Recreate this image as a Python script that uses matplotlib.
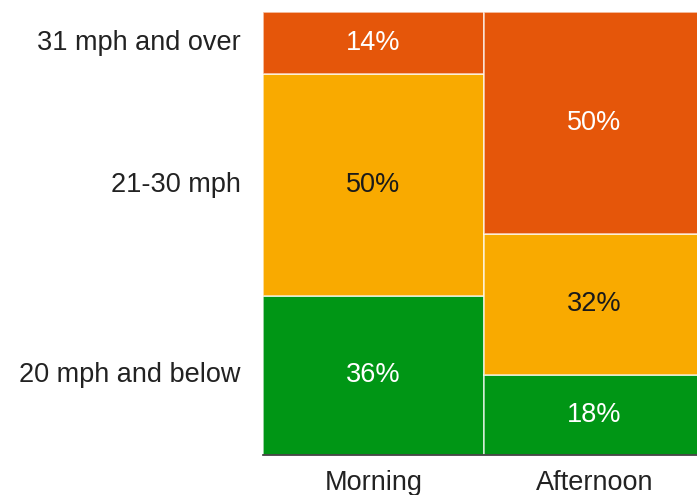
import matplotlib
matplotlib.use("Agg")
import matplotlib.pyplot as plt

periods = ["Morning", "Afternoon"]
speed_bands = ["20 mph and below", "21-30 mph", "31 mph and over"]
morning = [36, 50, 14]
afternoon = [18, 32, 50]
colors = ["#009615", "#F9AA00", "#E5560A"]
text_colors = ["white", "#1a1a1a", "white"]

plt.rcParams['font.family'] = ['Liberation Sans', 'DejaVu Sans']
W, H = 697, 495
fig = plt.figure(figsize=(W / 100, H / 100), dpi=100)
ax = fig.add_axes([263 / W, 1 - 455 / H, (705 - 263) / W, (455 - 12) / H])

shares = [morning, afternoon]
for i, vals in enumerate(shares):
    bottom = 0
    for j, v in enumerate(vals):
        ax.bar(i, v, width=1.0, bottom=bottom, align='edge', color=colors[j],
               edgecolor=(1, 1, 1, 0.7), linewidth=1.2)
        ax.text(i + 0.5, bottom + v / 2, f"{v}%", ha='center', va='center',
                fontsize=19.5, color=text_colors[j])
        bottom += v

ax.set_xlim(0, 2)
ax.set_ylim(0, 100)
ax.set_xticks([0.5, 1.5])
ax.set_xticklabels(periods, fontsize=19.5, color="#222222")
cum = 0
yt = []
for v in morning:
    yt.append(cum + v / 2)
    cum += v
ax.set_yticks(yt)
ax.set_yticklabels(speed_bands, fontsize=19.5, color="#222222", va='center')
ax.tick_params(axis='both', length=0)
ax.tick_params(axis='y', pad=16)
ax.tick_params(axis='x', pad=11)
for s in ['top', 'right', 'left']:
    ax.spines[s].set_visible(False)
ax.spines['bottom'].set_color("#333333")
ax.spines['bottom'].set_linewidth(1.2)

fig.savefig("out.png", dpi=100)
